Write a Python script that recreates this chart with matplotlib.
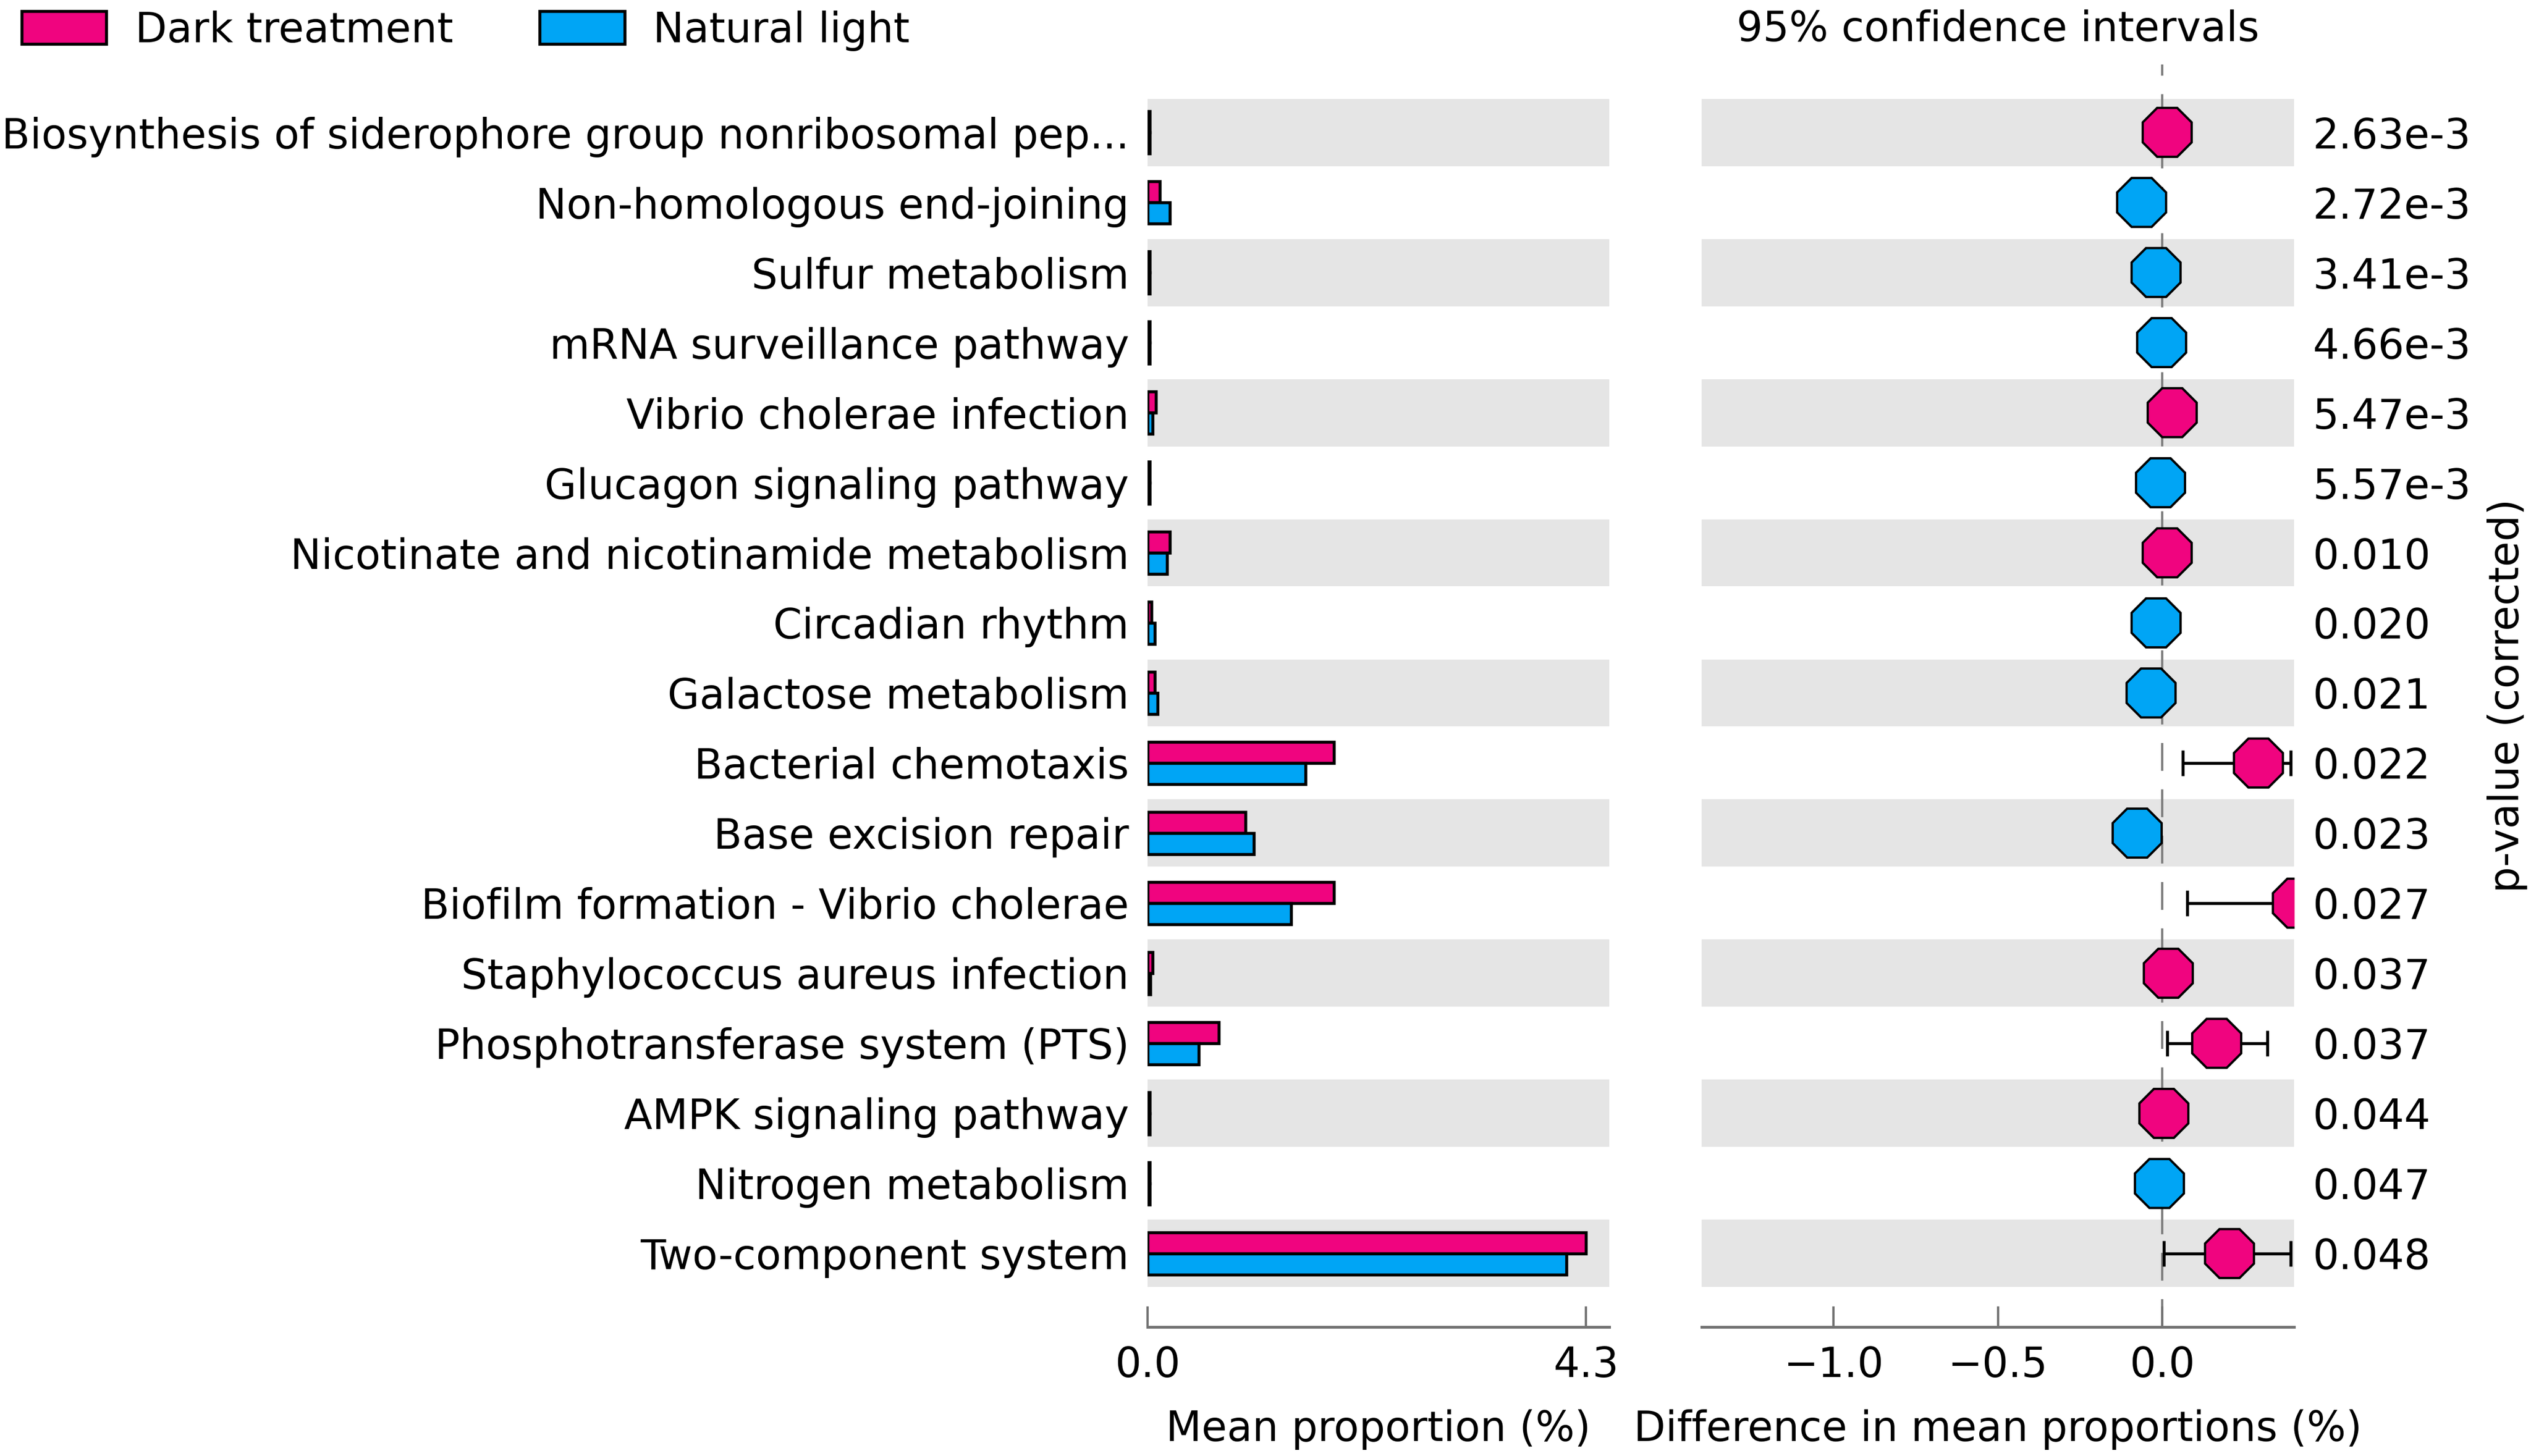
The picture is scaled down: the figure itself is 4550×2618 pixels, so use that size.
import numpy as np
import matplotlib.pyplot as plt
from matplotlib.patches import Patch

plt.rcParams['font.family'] = ['DejaVu Sans']
plt.rcParams['font.size'] = 17.8

features = [
    "Biosynthesis of siderophore group nonribosomal pep...",
    "Non-homologous end-joining",
    "Sulfur metabolism",
    "mRNA surveillance pathway",
    "Vibrio cholerae infection",
    "Glucagon signaling pathway",
    "Nicotinate and nicotinamide metabolism",
    "Circadian rhythm",
    "Galactose metabolism",
    "Bacterial chemotaxis",
    "Base excision repair",
    "Biofilm formation - Vibrio cholerae",
    "Staphylococcus aureus infection",
    "Phosphotransferase system (PTS)",
    "AMPK signaling pathway",
    "Nitrogen metabolism",
    "Two-component system",
]

# mean proportions (%)
dark = [0.02, 0.12, 0.02, 0.02, 0.08, 0.02, 0.22, 0.04, 0.07,
        1.83, 0.96, 1.83, 0.05, 0.70, 0.02, 0.02, 4.30]
natural = [0.02, 0.22, 0.02, 0.02, 0.05, 0.02, 0.19, 0.07, 0.10,
           1.55, 1.04, 1.41, 0.03, 0.50, 0.02, 0.02, 4.11]

# difference in mean proportions and 95% CI
diff = [0.015, -0.064, -0.020, -0.002, 0.030, -0.005, 0.015, -0.020, -0.034,
        0.292, -0.076, 0.410, 0.018, 0.165, 0.004, -0.009, 0.204]
ci_low = [0.005, -0.085, -0.030, -0.008, 0.015, -0.012, 0.005, -0.030, -0.050,
          0.062, -0.110, 0.076, 0.005, 0.014, 0.000, -0.015, 0.004]
ci_high = [0.025, -0.040, -0.010, 0.004, 0.045, 0.000, 0.025, -0.010, -0.020,
           0.389, -0.040, 0.740, 0.030, 0.319, 0.010, -0.003, 0.390]

pvals = ["2.63e-3", "2.72e-3", "3.41e-3", "4.66e-3", "5.47e-3", "5.57e-3",
         "0.010", "0.020", "0.021", "0.022", "0.023", "0.027", "0.037",
         "0.037", "0.044", "0.047", "0.048"]

c_dark = '#F0047F'
c_nat = '#00A5F5'
band = '#e5e5e5'
spine_c = '0.45'

n = len(features)
y = np.arange(n)

fig = plt.figure(figsize=(4550/300, 2618/300), dpi=300)
ax1 = fig.add_axes([0.4534, 0.0886, 0.1824, 0.8671])
ax2 = fig.add_axes([0.6723, 0.0886, 0.2341, 0.8671])

for ax in (ax1, ax2):
    for i in range(0, n, 2):
        ax.axhspan(i - 0.48, i + 0.48, color=band, lw=0, zorder=0)
    for s in ('top', 'left', 'right'):
        ax.spines[s].set_visible(False)
    ax.spines['bottom'].set_color(spine_c)
    ax.spines['bottom'].set_linewidth(1.2)
    ax.set_ylim(17.05, -0.97)
    ax.tick_params(axis='x', direction='in', length=9, width=1,
                   color=spine_c, pad=8)

# left: mean proportions
bh = 0.3
ax1.barh(y - bh/2, dark, height=bh, color=c_dark, edgecolor='black',
         lw=1.3, zorder=2)
ax1.barh(y + bh/2, natural, height=bh, color=c_nat, edgecolor='black',
         lw=1.3, zorder=2)
ax1.set_xlim(0, 4.53)
ax1.set_xticks([0, 4.3])
ax1.set_xticklabels(['0.0', '4.3'])
ax1.set_yticks(y)
ax1.set_yticklabels(features)
ax1.tick_params(axis='y', length=0, pad=8)
ax1.set_xlabel('Mean proportion (%)', labelpad=10)

# right: difference with CI
diff = np.array(diff)
err = np.array([diff - np.array(ci_low), np.array(ci_high) - diff])
ax2.axvline(0, color='gray', lw=1, dashes=(12, 8), zorder=1)
ax2.errorbar(diff, y, xerr=err, fmt='none', ecolor='black',
             elinewidth=1.3, capsize=5.5, capthick=1.3, zorder=3)
for d, yy in zip(diff, y):
    ax2.plot(d, yy, marker='8', ms=23, mfc=c_dark if d > 0 else c_nat,
             mec='black', mew=1, zorder=4, ls='none')
ax2.set_xlim(-1.40, 0.40)
ax2.set_xticks([-1.0, -0.5, 0.0])
ax2.set_yticks(y)
ax2.yaxis.tick_right()
ax2.yaxis.set_label_position('right')
ax2.set_yticklabels(pvals)
ax2.tick_params(axis='y', length=0, pad=8)
ax2.set_ylabel('p-value (corrected)', labelpad=7)
ax2.set_xlabel('Difference in mean proportions (%)', labelpad=10)
ax2.set_title('95% confidence intervals', fontsize=17.8, pad=10)

handles = [Patch(facecolor=c_dark, edgecolor='black', lw=1.3),
           Patch(facecolor=c_nat, edgecolor='black', lw=1.3)]
fig.legend(handles, ['Dark treatment', 'Natural light'], loc='upper left',
           bbox_to_anchor=(0.0045, 1.0), ncol=2, frameon=False,
           handlelength=2.05, handleheight=0.85, handletextpad=0.7,
           columnspacing=2.1, borderaxespad=0.05, borderpad=0.2)

fig.savefig('out.png', dpi=300)
